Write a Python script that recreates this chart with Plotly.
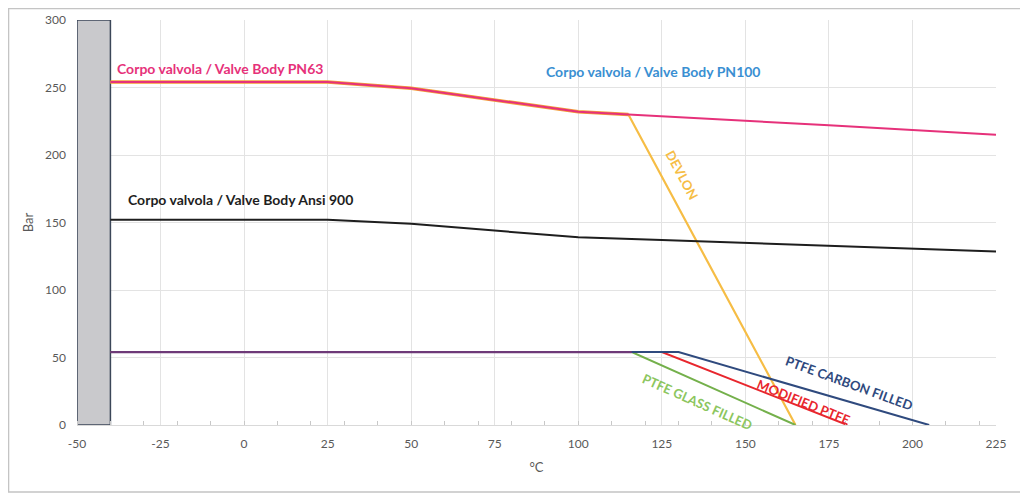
import plotly.graph_objects as go

# ---- data ----
bar_x = [-45]
bar_y = [300]

pn100_x = [-40, 25, 50, 100, 115, 150, 175, 200, 225]
pn100_y = [254, 254, 249.5, 232, 230, 225.5, 222, 218.5, 215]

devlon_x = [-40, 25, 50, 100, 115, 165]
devlon_y = [254, 254, 249.5, 232, 230, 0]

ansi_x = [-40, 25, 50, 75, 100, 125, 150, 175, 200, 225]
ansi_y = [152, 152, 149, 144, 139, 137, 135, 133, 131, 128.5]

glass_x = [-40, 116, 165]
glass_y = [54, 54, 0]

modified_x = [-40, 125, 180.5]
modified_y = [54, 54, 0]

carbon_x = [-40, 130, 205]
carbon_y = [54, 54, 0]

x_ticks = [-50, -25, 0, 25, 50, 75, 100, 125, 150, 175, 200, 225]
x_labels = ["-50", "-25", "0", "25", "50", "75", "100", "125", "150", "175", "200", "225"]
y_ticks = [0, 50, 100, 150, 200, 250, 300]

FONT = "Lato"

fig = go.Figure()

fig.add_trace(go.Bar(x=bar_x, y=bar_y, width=10,
                     marker=dict(color="#c9c9cc", line=dict(color="#3b4658", width=1.5)),
                     hoverinfo="skip"))

fig.add_trace(go.Scatter(x=devlon_x, y=devlon_y, mode="lines",
                         line=dict(color="#f6bd45", width=2.2)))
# orange under-line of PN63 segment
fig.add_trace(go.Scatter(x=devlon_x[:5], y=devlon_y[:5], mode="lines",
                         line=dict(color="#f2a03a", width=3.5)))
fig.add_trace(go.Scatter(x=pn100_x, y=pn100_y, mode="lines",
                         line=dict(color="#e6317a", width=2)))
fig.add_trace(go.Scatter(x=ansi_x, y=ansi_y, mode="lines",
                         line=dict(color="#1e1e1e", width=2)))
fig.add_trace(go.Scatter(x=glass_x, y=glass_y, mode="lines",
                         line=dict(color="#74b04b", width=2)))
fig.add_trace(go.Scatter(x=modified_x, y=modified_y, mode="lines",
                         line=dict(color="#e8262d", width=2)))
fig.add_trace(go.Scatter(x=carbon_x, y=carbon_y, mode="lines",
                         line=dict(color="#2f4a7e", width=2)))
# shared flat section where the PTFE lines overlap (appears purple)
fig.add_trace(go.Scatter(x=glass_x[:2], y=glass_y[:2], mode="lines",
                         line=dict(color="#6e3a78", width=2.2)))

ann = []
ann.append(dict(x=-38.6, y=264, text="<b>Corpo valvola / Valve Body PN63</b>",
                xanchor="left", yanchor="middle", showarrow=False,
                font=dict(family=FONT, size=14, color="#e6317a")))
ann.append(dict(x=89.6, y=261.5, text="<b>Corpo valvola / Valve Body PN100</b>",
                xanchor="left", yanchor="middle", showarrow=False,
                font=dict(family=FONT, size=14, color="#3a8fd2")))
ann.append(dict(x=-35.3, y=167, text="<b>Corpo valvola / Valve Body Ansi 900</b>",
                xanchor="left", yanchor="middle", showarrow=False,
                font=dict(family=FONT, size=14, color="#1e1e1e")))
ann.append(dict(x=131, y=185, text="<b>DEVLON</b>", textangle=62, showarrow=False,
                font=dict(family=FONT, size=13, color="#f6bd45")))
ann.append(dict(x=181, y=31, text="<b>PTFE CARBON FILLED</b>", textangle=20, showarrow=False,
                font=dict(family=FONT, size=13, color="#2f4a7e")))
ann.append(dict(x=167.5, y=17, text="<b>MODIFIED PTFE</b>", textangle=22, showarrow=False,
                font=dict(family=FONT, size=13, color="#e8262d")))
ann.append(dict(x=135.7, y=17, text="<b>PTFE GLASS FILLED</b>", textangle=24, showarrow=False,
                font=dict(family=FONT, size=13, color="#8cc65e")))

fig.update_layout(
    width=1020, height=488,
    margin=dict(l=69, r=32, t=12, b=71, autoexpand=False),
    paper_bgcolor="white", plot_bgcolor="white",
    showlegend=False,
    annotations=ann,
    shapes=[dict(type="rect", xref="paper", yref="paper",
                 x0=-0.0745, x1=1.0283, y0=-0.1654, y1=1.0284,
                 line=dict(color="#c4c4c4", width=1.5), layer="below")],
    font=dict(family=FONT, color="#595959"),
)
fig.update_xaxes(range=[-50, 225], tickvals=x_ticks, ticktext=x_labels,
                 showgrid=True, gridcolor="#e3e3e3", automargin=False,
                 zeroline=False, showline=True, linecolor="#d9d9d9",
                 tickfont=dict(family=FONT, size=12, color="#595959"),
                 ticks="", ticklabelstandoff=8,
                 minor=dict(tick0=0, dtick=10, ticks="inside", ticklen=4, tickcolor="#c8c8c8", showgrid=False),
                 title=dict(text="°C", font=dict(family=FONT, size=13, color="#595959"), standoff=12))
fig.update_yaxes(range=[0, 300], tickvals=y_ticks, showgrid=True, gridcolor="#e3e3e3",
                 zeroline=False, showline=False, automargin=False,
                 tickfont=dict(family=FONT, size=12, color="#595959"),
                 ticklabelstandoff=10,
                 title=dict(text="Bar", font=dict(family=FONT, size=13, color="#595959"), standoff=8))

fig.write_html("out.html")
